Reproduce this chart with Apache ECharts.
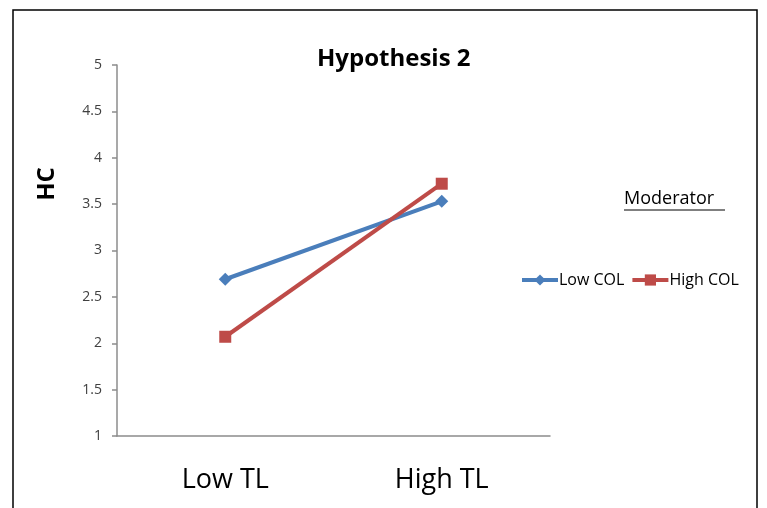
<!DOCTYPE html>
<html><head><meta charset="utf-8">
<script src="https://cdn.jsdelivr.net/npm/echarts@6/dist/echarts.min.js"></script>
<style>html,body{margin:0;padding:0;background:#fff}#c{width:767px;height:508px}</style>
</head><body><div id="c"></div>
<script>
const categories = ['Low TL', 'High TL'];
const lowCOL = [2.69, 3.53];
const highCOL = [2.07, 3.72];
const yTicks = {min: 1, max: 5, step: 0.5};
const chart = echarts.init(document.getElementById('c'));
const font = 'Open Sans, Liberation Sans, sans-serif';
chart.setOption({
  animation: false,
  backgroundColor: '#fff',
  title: {text: 'Hypothesis 2', left: 312, top: 42,
    textStyle: {fontFamily: font, fontSize: 24, fontWeight: 'bold', color: '#000'}},
  grid: {left: 117, right: 217, top: 65, bottom: 72},
  legend: {left: 515, top: 267, itemWidth: 36, itemHeight: 14, itemGap: 6,
    lineStyle: {width: 4},
    textStyle: {fontFamily: font, fontSize: 16, color: '#000', padding: [0,0,0,-4]},
    data: ['Low COL', 'High COL']},
  xAxis: {type: 'category', data: categories, boundaryGap: true,
    axisLine: {lineStyle: {color: '#8c8c8c', width: 1.5}},
    axisTick: {length: 7, lineStyle: {color: '#8c8c8c', width: 1.5}},
    axisLabel: {fontFamily: font, fontSize: 27, color: '#000', margin: 31}},
  yAxis: {type: 'value', min: yTicks.min, max: yTicks.max, interval: yTicks.step,
    splitLine: {show: false},
    axisLine: {show: true, lineStyle: {color: '#8c8c8c', width: 1.5}},
    axisTick: {show: true, length: 5, lineStyle: {color: '#8c8c8c', width: 1.5}},
    axisLabel: {fontFamily: font, fontSize: 14, color: '#404040', margin: 15}},
  series: [
    {name: 'Low COL', type: 'line', data: lowCOL, symbol: 'diamond', symbolSize: 13,
      lineStyle: {color: '#4A7EBB', width: 4}, itemStyle: {color: '#4A7EBB'}},
    {name: 'High COL', type: 'line', data: highCOL, symbol: 'rect', symbolSize: 12,
      lineStyle: {color: '#BE4B48', width: 4}, itemStyle: {color: '#BE4B48'}}
  ],
  graphic: [
    {type: 'rect', shape: {x: 13, y: 10, width: 744, height: 520}, silent: true,
      style: {fill: null, stroke: '#000', lineWidth: 1.5}},
    {type: 'text', x: 47, y: 184, rotation: Math.PI / 2,
      style: {text: 'HC', fontFamily: font, fontSize: 24, fontWeight: 'bold', fill: '#000',
        align: 'center', verticalAlign: 'middle'}},
    {type: 'text', left: 624, top: 190, style: {text: 'Moderator', fontFamily: font, fontSize: 18, fill: '#000'}},
    {type: 'line', shape: {x1: 624, y1: 210, x2: 725, y2: 210}, style: {stroke: '#000', lineWidth: 1}}
  ]
});
</script></body></html>
